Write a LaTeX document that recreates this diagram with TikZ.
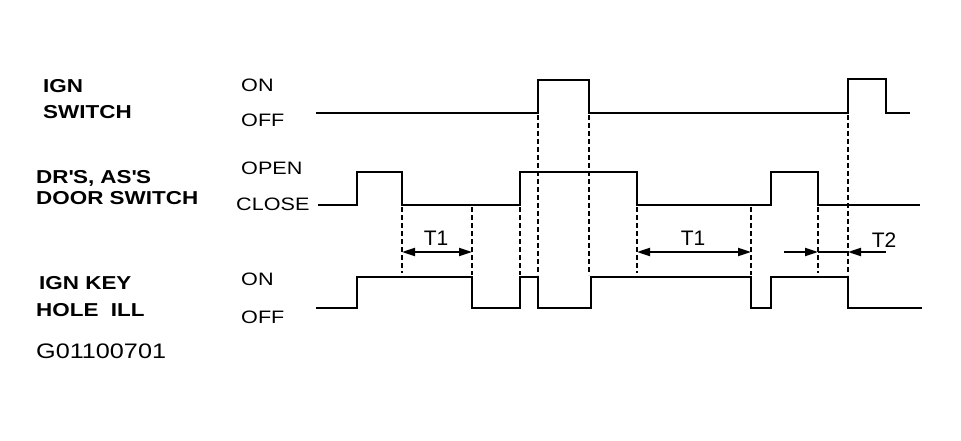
\documentclass[tikz,border=0pt]{standalone}
\usepackage{fontspec}
\setmainfont{Liberation Sans}[FakeStretch=1.2]
\newfontfamily\tfont{Liberation Sans}
\usetikzlibrary{arrows.meta}

\begin{document}
\begin{tikzpicture}[x=1pt,y=-1pt,
    wave/.style={line width=2.8pt,line join=miter},
    guide/.style={line width=1.7pt,dash pattern=on 5pt off 3pt},
    span/.style={line width=2pt,{Triangle[length=13pt,width=8pt]}-{Triangle[length=13pt,width=8pt]}},
    inarrow/.style={line width=2pt,-{Triangle[length=13pt,width=8pt]}},
    sig/.style={anchor=base west,inner sep=0pt,font=\fontsize{18.7}{20}\selectfont\bfseries},
    lvl/.style={anchor=base west,inner sep=0pt,font=\fontsize{18}{20}\selectfont},
    tlabel/.style={anchor=base,inner sep=0pt,font=\fontsize{21}{24}\tfont}]
  \useasboundingbox (0,0) rectangle (961,441);
  % signal names
  \node[sig] (ign1) at (43,93) {IGN};
  \node[sig] (ign2) at (43,119) {SWITCH};
  \node[sig] (dr1) at (36,183) {DR\textquotesingle S, AS\textquotesingle S};
  \node[sig] (dr2) at (36,204) {DOOR SWITCH};
  \node[sig] (key1) at (39,289) {IGN KEY};
  \node[sig] (key2) at (36,316) {HOLE\ \ ILL};
  \node[anchor=base west,inner sep=0pt,font=\fontsize{21}{24}\selectfont] (code) at (36,358) {G01100701};
  % levels
  \node[lvl] (ignon) at (241,92) {ON};
  \node[lvl] (ignoff) at (241,127) {OFF};
  \node[lvl] (dropen) at (241,175) {OPEN};
  \node[lvl] (drclose) at (236,210) {CLOSE};
  \node[lvl] (keyon) at (241,285) {ON};
  \node[lvl] (keyoff) at (241,323) {OFF};
  % waveforms
  \draw[wave] (316,113) -- (538,113) -- (538,80) -- (589,80) -- (589,113)
    -- (848,113) -- (848,79) -- (886,79) -- (886,113) -- (910,113);
  \draw[wave] (318,205) -- (357,205) -- (357,172) -- (402,172) -- (402,205)
    -- (520,205) -- (520,172) -- (637,172) -- (637,205) -- (771,205)
    -- (771,172) -- (818,172) -- (818,205) -- (920,205);
  \draw[wave] (316,308) -- (357,308) -- (357,277) -- (472,277) -- (472,308)
    -- (520,308) -- (520,277) -- (538,277) -- (538,308) -- (591,308)
    -- (591,277) -- (751,277) -- (751,308) -- (771,308) -- (771,277)
    -- (848,277) -- (848,308) -- (922,308);
  % guides
  \draw[guide] (402,207) -- (402,273);
  \draw[guide] (472,207) -- (472,275);
  \draw[guide] (520,207) -- (520,275);
  \draw[guide] (538,115) -- (538,275);
  \draw[guide] (589,115) -- (589,275);
  \draw[guide] (637,207) -- (637,273);
  \draw[guide] (751,207) -- (751,275);
  \draw[guide] (818,207) -- (818,273);
  \draw[guide] (848,115) -- (848,275);
  % T1, T1, T2
  \coordinate (a1) at (402,252);
  \coordinate (b1) at (472,252);
  \coordinate (a2) at (637,252);
  \coordinate (b2) at (751,252);
  \coordinate (a3) at (818,252);
  \coordinate (b3) at (848,252);
  \coordinate (c3) at (784,252);
  \coordinate (d3) at (886,252);
  \draw[span] (a1) -- (b1);
  \draw[span] (a2) -- (b2);
  \draw[inarrow] (c3) -- (a3);
  \draw[inarrow] (d3) -- (b3);
  \draw[line width=2pt] (a3) -- (b3);
  \node[tlabel] (t1a) at (436,245) {T1};
  \node[tlabel] (t1b) at (693,245) {T1};
  \node[tlabel] (t2) at (884,247) {T2};
\end{tikzpicture}
\end{document}
